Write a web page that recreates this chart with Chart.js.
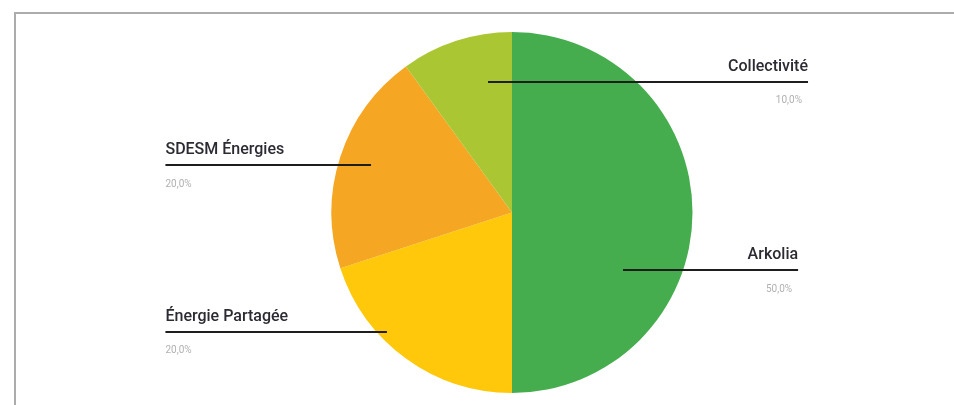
<!DOCTYPE html>
<html>
<head>
<meta charset="utf-8">
<script src="https://cdn.jsdelivr.net/npm/chart.js@4"></script>
<style>
  html, body { margin: 0; padding: 0; background: #fff; }
  #wrap { position: relative; width: 954px; height: 405px; overflow: hidden; }
  #frame { position: absolute; left: 14px; top: 12px; width: 1000px; height: 500px;
           border-top: 2px solid #acacac; border-left: 2px solid #acacac; }
  canvas { position: absolute; left: 0; top: 0; }
</style>
</head>
<body>
<div id="wrap">
  <div id="frame"></div>
  <canvas id="myChart" width="954" height="405"></canvas>
</div>
<script>
const labels = ["Arkolia", "Énergie Partagée", "SDESM Énergies", "Collectivité"];
const values = [50, 20, 20, 10];
const sliceColors = ["#46ad4f", "#ffc80a", "#f5a623", "#aac733"];

// label placement, in units of the pie radius (inner end x, line y, outer end x)
const calloutPos = [
  { ix: 0.615, ly: 0.319, ox: 1.585, align: "right" },
  { ix: -0.693, ly: 0.662, ox: -1.92, align: "left" },
  { ix: -0.781, ly: -0.263, ox: -1.92, align: "left" },
  { ix: -0.133, ly: -0.723, ox: 1.64, align: "right" }
];

const callouts = {
  id: "callouts",
  afterDatasetsDraw(chart) {
    const ctx = chart.ctx;
    const meta = chart.getDatasetMeta(0);
    const data = chart.data.datasets[0].data;
    const total = data.reduce((a, b) => a + b, 0);
    meta.data.forEach((arc, i) => {
      const p = calloutPos[i];
      const r = arc.outerRadius;
      const y = arc.y + p.ly * r;
      const x1 = arc.x + p.ix * r;
      const x2 = arc.x + p.ox * r;
      ctx.save();
      ctx.strokeStyle = "#1e1e1e";
      ctx.lineWidth = 2;
      ctx.beginPath();
      ctx.moveTo(x1, y);
      ctx.lineTo(x2, y);
      ctx.stroke();
      ctx.textAlign = p.align;
      ctx.textBaseline = "middle";
      ctx.fillStyle = "#2b2b33";
      ctx.font = "500 16px Roboto";
      ctx.fillText(chart.data.labels[i], x2, y - 15);
      ctx.fillStyle = "#b0b0b0";
      ctx.font = "10px Roboto";
      const pct = (data[i] / total * 100).toFixed(1).replace(".", ",") + "%";
      ctx.fillText(pct, p.align === "right" ? x2 - 6 : x2, y + 19);
      ctx.restore();
    });
  }
};

new Chart("myChart", {
  type: "pie",
  data: {
    labels: labels,
    datasets: [{
      data: values,
      backgroundColor: sliceColors,
      borderWidth: 0
    }]
  },
  options: {
    responsive: false,
    animation: false,
    layout: { padding: { top: 32, bottom: 12, left: 70, right: 0 } },
    plugins: {
      legend: { display: false },
      tooltip: { enabled: false }
    }
  },
  plugins: [callouts]
});
</script>
</body>
</html>
